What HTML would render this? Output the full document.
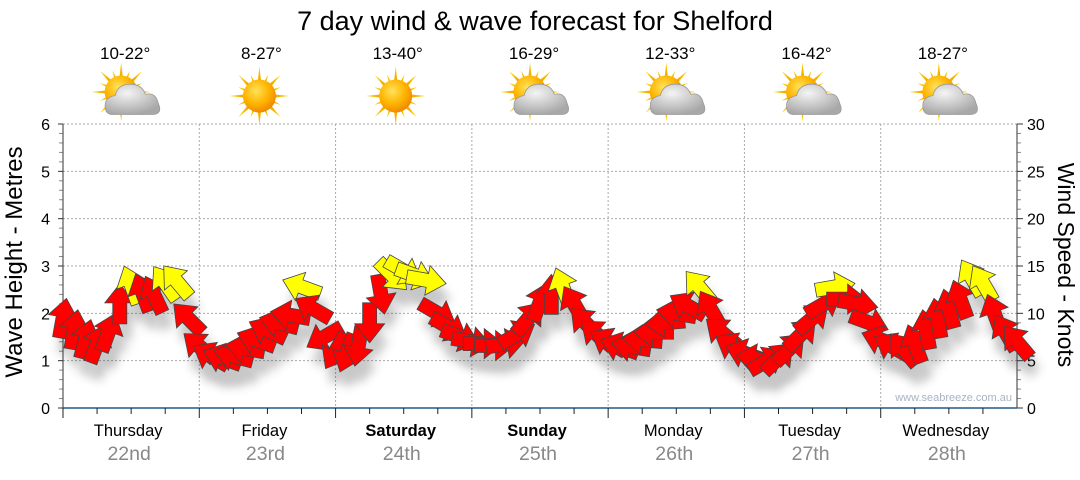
<!DOCTYPE html>
<html><head><meta charset="utf-8">
<style>
html,body{margin:0;padding:0;background:#fff;}
body{width:1080px;height:475px;overflow:hidden;font-family:"Liberation Sans",sans-serif;}
</style></head>
<body>
<svg id="chart" width="1080" height="475" viewBox="0 0 1080 475" xmlns="http://www.w3.org/2000/svg" font-family="Liberation Sans, sans-serif">
<defs>
<filter id="sh" x="-50%" y="-50%" width="200%" height="200%"><feGaussianBlur stdDeviation="5"/></filter>
<radialGradient id="sunG" cx="40%" cy="35%" r="65%"><stop offset="0" stop-color="#ffe25a"/><stop offset="0.6" stop-color="#ffb400"/><stop offset="1" stop-color="#f08a00"/></radialGradient>
<linearGradient id="rayG" x1="0" y1="0" x2="0" y2="1"><stop offset="0" stop-color="#ffd000"/><stop offset="1" stop-color="#e08000"/></linearGradient>
<radialGradient id="cloudG" cx="40%" cy="30%" r="70%"><stop offset="0" stop-color="#f4f4f4"/><stop offset="1" stop-color="#a8a8a8"/></radialGradient>
</defs>
<text x="535" y="30" font-size="27" text-anchor="middle" fill="#000">7 day wind &amp; wave forecast for Shelford</text>
<g id="grid"></g>
<g id="axes"></g>
<g id="header"></g>
<g id="shadows" opacity="0.3"></g>
<g id="arrows"></g>
<text x="1012" y="401" font-size="11" text-anchor="end" fill="#a8b4c4">www.seabreeze.com.au</text>
<text transform="translate(22,262) rotate(-90)" font-size="24" text-anchor="middle">Wave Height - Metres</text>
<text transform="translate(1058,265) rotate(90)" font-size="23" text-anchor="middle">Wind Speed - Knots</text>
</svg>
<script>
const days = ["Thursday","Friday","Saturday","Sunday","Monday","Tuesday","Wednesday"];
const dates = ["22nd","23rd","24th","25th","26th","27th","28th"];
const boldDays = [false,false,true,true,false,false,false];
const temps = ["10-22°","8-27°","13-40°","16-29°","12-33°","16-42°","18-27°"];
const cloudy = [true,false,false,true,true,true,true];
const waveTicks = [0,1,2,3,4,5,6];
const windTicks = [0,5,10,15,20,25,30];
// wind speed (knots), every 2 hours from Thursday 00:00
const windSpeed = [
 9.5,8.3,7.3,6.8,8.0,11.0,13.0,12.2,12.0,13.2,13.4,9.5,
 6.5,5.5,5.3,5.5,6.3,7.2,8.2,9.0,9.8,12.8,10.5,7.5,
 6.0,5.8,6.5,9.0,12.0,14.0,14.5,14.0,13.5,10.0,8.5,7.5,
 7.0,6.8,6.6,6.8,7.8,9.5,11.2,12.0,12.8,11.0,9.0,7.8,
 7.0,6.5,6.5,7.2,8.0,9.0,10.0,10.8,12.8,10.5,8.0,6.5,
 5.8,5.2,5.0,5.3,6.3,7.8,9.5,11.0,12.8,11.5,11.0,9.0,
 7.2,6.5,6.2,6.8,8.3,9.5,10.5,11.5,13.8,13.2,10.0,8.0,7.0];
// direction arrow points to (degrees clockwise from up)
const windDir = [
 10,10,15,20,20,0,-20,-20,-25,-35,-40,-45,
 -50,-60,-70,-75,-80,-70,-65,-75,-80,-70,-60,-120,
 -150,-160,-170,180,170,135,120,110,100,120,120,110,
 100,90,90,80,60,40,20,0,-20,-30,-45,-50,
 -60,-70,-80,-85,-90,-95,-80,-60,-40,-30,-50,-60,
 -70,-80,60,45,45,45,50,60,80,90,100,110,
 -70,-60,-40,-20,-10,-10,-15,-20,-30,-30,-20,-30,-40];
const yellowThreshold = 12.6;

const NS="http://www.w3.org/2000/svg";
const X0=63,X1=1017,Y0=408,Y1=124,DW=(X1-X0)/7;
const xT=h=>X0+h*DW/24;
const yWave=m=>Y0-(Y0-Y1)*m/6;
const yWind=k=>Y0-(Y0-Y1)*k/30;
function mk(tag,attrs,parent){const e=document.createElementNS(NS,tag);for(const k in attrs)e.setAttribute(k,attrs[k]);parent.appendChild(e);return e;}
const grid=document.getElementById('grid'),axes=document.getElementById('axes'),header=document.getElementById('header');

waveTicks.forEach(v=>{
  const y=yWave(v);
  if(v>0){const l=mk('line',{x1:X0,x2:X1,y1:y,y2:y,stroke:'#aaa','stroke-dasharray':'2,2'},grid);
  
  }
  const t=mk('text',{x:50,y:y+6,'font-size':16,'text-anchor':'end',fill:'#000'},axes);t.textContent=v;
  
  
  mk('line',{x1:X0-5,x2:X0,y1:y,y2:y,stroke:'#333'},axes);
  if(v<6)for(let m=1;m<5;m++){const ym=yWave(v+m/5);mk('line',{x1:X0-4,x2:X0,y1:ym,y2:ym,stroke:'#888'},axes);}
});
windTicks.forEach(v=>{
  const y=yWind(v);
  const t=mk('text',{x:1027,y:y+6,'font-size':16,fill:'#000'},axes);t.textContent=v;
  
  
  mk('line',{x1:X1,x2:X1+6,y1:y,y2:y,stroke:'#333'},axes);
  if(v<30)for(let m=1;m<5;m++){const ym=yWind(v+m);mk('line',{x1:X1,x2:X1+4,y1:ym,y2:ym,stroke:'#888'},axes);}
});
mk('line',{x1:X0,x2:X0,y1:Y1,y2:Y0,stroke:'#333'},axes);
mk('line',{x1:X1,x2:X1,y1:Y1,y2:Y0,stroke:'#333'},axes);
mk('line',{x1:X0,x2:X1,y1:Y0,y2:Y0,stroke:'#1f5a8a','stroke-width':1.5},axes);

days.forEach((d,i)=>{
  const xs=X0+i*DW,xc=xs+DW/2;
  if(i>0){const l=mk('line',{x1:xs,x2:xs,y1:Y1,y2:Y0,stroke:'#aaa','stroke-dasharray':'2,2'},grid);
  
  }
  mk('line',{x1:xs,x2:xs,y1:Y0,y2:Y0+10,stroke:'#222'},axes);
  for(let q=1;q<4;q++){const xq=xs+q*DW/4;mk('line',{x1:xq,x2:xq,y1:Y0,y2:Y0+6,stroke:'#222'},axes);}
  const t=mk('text',{x:xc-3,y:436,'font-size':16.5,'text-anchor':'middle','font-weight':boldDays[i]?'bold':'normal'},axes);t.textContent=d;
  
  
  const t2=mk('text',{x:xc-2,y:460,'font-size':19.5,'text-anchor':'middle',fill:'#888'},axes);t2.textContent=dates[i];
  
  
  const t3=mk('text',{x:xc-6,y:59,'font-size':17,'text-anchor':'middle'},header);t3.textContent=temps[i];
  
  
  const g=mk('g',{transform:`translate(${xc-(cloudy[i]?10:8)},${cloudy[i]?92:96}) scale(1.1)`},header);
  
  
  for(let r=0;r<16;r++){const a=r*22.5,len=r%2?21:27;
    mk('polygon',{points:`-3,0 3,0 0,-${len}`,fill:'url(#rayG)',transform:`rotate(${a})`},g);}
  mk('circle',{cx:0,cy:0,r:15,fill:'url(#sunG)'},g);
  if(cloudy[i]){
    const c=mk('g',{transform:'translate(13,9) scale(1.15)'},g);
    mk('path',{d:'M-18,10 Q-24,10 -24,3 Q-24,-4 -16,-5 Q-14,-14 -4,-14 Q5,-14 8,-6 Q16,-8 18,1 Q22,10 13,10 Z',fill:'url(#cloudG)',stroke:'#999','stroke-width':0.6},c);
  }
});

const sh=document.getElementById('shadows'),ar=document.getElementById('arrows');
const shape='M-7,20 L7,20 L7,-1 L15,-1 L0,-20 L-15,-1 L-7,-1 Z';
windSpeed.forEach((s,i)=>{
  const x=xT(i*2),y=yWind(s),d=windDir[i];
  const shd=mk('path',{d:shape,fill:'#444',filter:'url(#sh)',transform:`translate(${x+5},${y+16}) rotate(${d})`},sh);
  
  
  const p=mk('path',{d:shape,fill:s>=yellowThreshold?'#ffff00':'#ff0000',stroke:'#444','stroke-width':0.8,transform:`translate(${x},${y}) rotate(${d})`},ar);
  
  
});
</script>
</body></html>
